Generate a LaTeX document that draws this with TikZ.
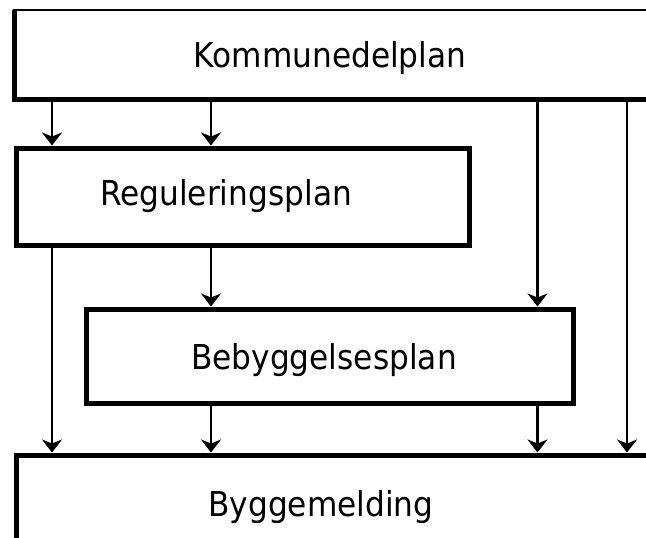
\documentclass[tikz,border=0pt]{standalone}
\usepackage{fontspec}
\setmainfont{DejaVu Sans}[FakeStretch=0.91]
\usetikzlibrary{arrows.meta}

\tikzset{
  plan/.style={draw, line width=5pt, inner sep=0pt},
  planname/.style={anchor=base, inner sep=0pt, font=\fontsize{34.3}{40}\selectfont},
  pil/.style={-{Stealth[length=13pt,width=20pt,inset=4pt]}, line width=2.5pt}
}

\begin{document}
\begin{tikzpicture}[x=1pt,y=-1pt]
\useasboundingbox (0,0) rectangle (646,538);
\clip (0,0) rectangle (646,538);

% plan levels
\node[plan, line width=2pt, outer sep=0pt, minimum width=666pt, minimum height=89.5pt] (kdp) at (347,54.75) {};
\draw[line width=5pt] (kdp.north west) -- (kdp.south west) -- (kdp.south east);
\node[plan, minimum width=452.5pt, minimum height=97pt] (reg) at (242.75,196.5) {};
\node[plan, minimum width=487.5pt, minimum height=94pt] (beb) at (329.75,356) {};
\node[plan, minimum width=663.5pt, minimum height=145pt] (byg) at (348.25,527.5) {};

% names
\node[planname] (kdpname) at (330,67) {Kommunedelplan};
\node[planname] (regname) at (226,205) {Reguleringsplan};
\node[planname] (bebname) at (324,369) {Bebyggelsesplan};
\node[planname] (bygname) at (321,516) {Byggemelding};

% columns for the arrows
\coordinate (a) at (52,0);
\coordinate (b) at (211,0);
\coordinate (c) at (537.5,0);
\coordinate (d) at (627,0);

\foreach \from/\to/\col in {kdp/reg/a, kdp/reg/b, kdp/beb/c, kdp/byg/d,
                            reg/byg/a, reg/beb/b, beb/byg/b, beb/byg/c}
  \draw[pil] (\from.south -| \col) -- (\to.north -| \col);
\end{tikzpicture}
\end{document}
